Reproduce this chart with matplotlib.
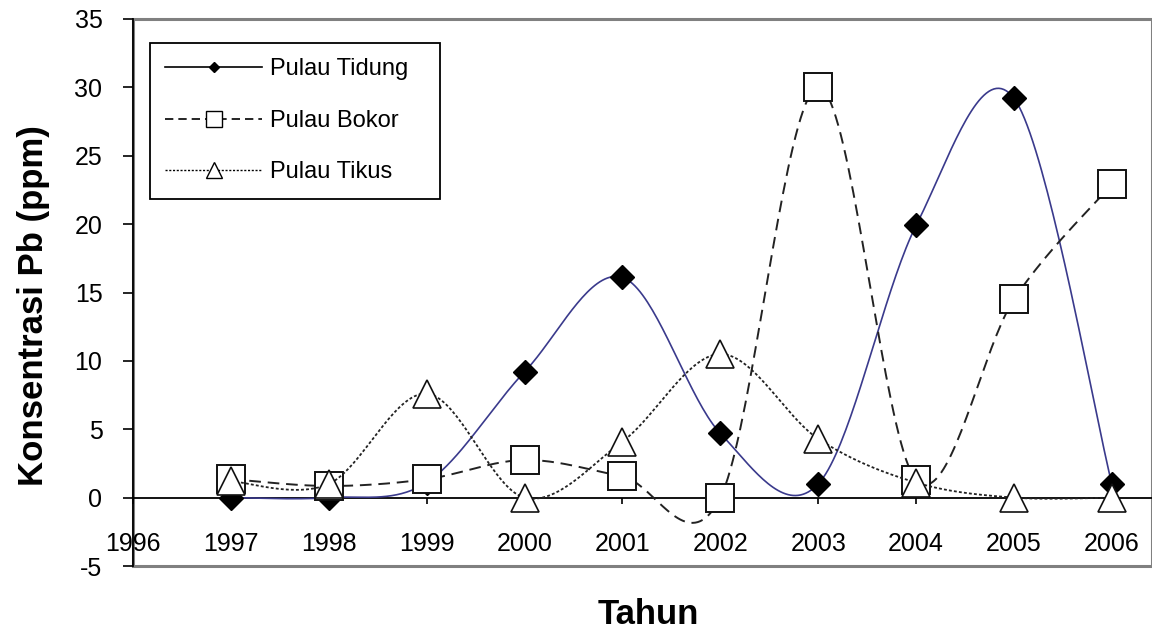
import numpy as np
import matplotlib
matplotlib.use("Agg")
import matplotlib.pyplot as plt
from matplotlib.lines import Line2D
from matplotlib.patches import Rectangle

plt.rcParams['font.family'] = ['Liberation Sans', 'DejaVu Sans']
plt.rcParams['axes.unicode_minus'] = False

years = [1997, 1998, 1999, 2000, 2001, 2002, 2003, 2004, 2005, 2006]
tidung = [0.0, 0.0, 1.1, 9.2, 16.1, 4.7, 1.0, 19.9, 29.2, 1.0]
bokor = [1.35, 0.85, 1.35, 2.75, 1.55, 0.0, 30.0, 1.3, 14.5, 22.9]
tikus = [1.2, 1.0, 7.6, 0.0, 4.1, 10.5, 4.3, 1.1, 0.0, 0.0]
series_names = ["Pulau Tidung", "Pulau Bokor", "Pulau Tikus"]
x_ticks = list(range(1996, 2007))
y_ticks = list(range(-5, 36, 5))


def smooth(xs, ys, n=40):
    """Excel-like smoothed line: Catmull-Rom style cubic Bezier segments."""
    x = np.asarray(xs, float)
    y = np.asarray(ys, float)
    px = np.concatenate([[x[0]], x, [x[-1]]])
    py = np.concatenate([[y[0]], y, [y[-1]]])
    ox, oy = [], []
    t = np.linspace(0, 1, n)
    for i in range(len(x) - 1):
        p0 = np.array([x[i], y[i]])
        p3 = np.array([x[i + 1], y[i + 1]])
        p1 = p0 + (np.array([px[i + 2], py[i + 2]]) - np.array([px[i], py[i]])) / 6.0
        p2 = p3 - (np.array([px[i + 3], py[i + 3]]) - np.array([px[i + 1], py[i + 1]])) / 6.0
        b = ((1 - t) ** 3)[:, None] * p0 + (3 * (1 - t) ** 2 * t)[:, None] * p1 \
            + (3 * (1 - t) * t ** 2)[:, None] * p2 + (t ** 3)[:, None] * p3
        ox.extend(b[:, 0]); oy.extend(b[:, 1])
    return np.array(ox), np.array(oy)


W, H = 1152, 635
fig = plt.figure(figsize=(W / 100, H / 100), dpi=100)
ax = fig.add_axes([133 / W, 1 - 566 / H, 1 - 133 / W, (566 - 19) / H])
ax.set_xlim(1996, 2006.41)
ax.set_ylim(-5, 35)

navy = '#3a3a8c'
# Tidung
sx, sy = smooth(years, tidung)
ax.plot(sx, sy, color=navy, lw=1.2, zorder=3)
ax.plot(years, tidung, ls='none', marker='D', ms=12, mfc='black', mec='black', zorder=4)
# Bokor
sx, sy = smooth(years, bokor)
ax.plot(sx, sy, color='#222222', lw=1.4, ls=(0, (6, 3.5)), zorder=5)
ax.plot(years, bokor, ls='none', marker='s', ms=20, mfc='white', mec='#111111', mew=1.4, zorder=6)
# Tikus
sx, sy = smooth(years, tikus)
ax.plot(sx, sy, color='#222222', lw=1.3, ls=(0, (1.6, 1.2)), zorder=7)
ax.plot(years, tikus, ls='none', marker='^', ms=19.5, mfc='white', mec='#111111', mew=1.2, zorder=8)

# axes styling
for s in ['top', 'right']:
    ax.spines[s].set_visible(False)
ax.spines['bottom'].set_position(('data', 0))
ax.spines['bottom'].set_color('black')
ax.spines['bottom'].set_linewidth(1.3)
ax.spines['left'].set_color('black')
ax.spines['left'].set_linewidth(1.3)
ax.add_patch(Rectangle((0, 0), 1, 1, transform=ax.transAxes, fill=False,
                       edgecolor='#808080', lw=2.2, clip_on=False, zorder=0.5))

ax.set_xticks(x_ticks)
ax.set_xticklabels([str(v) for v in x_ticks])
ax.set_yticks(y_ticks)
ax.set_yticklabels([str(v) for v in y_ticks])
ax.tick_params(axis='x', direction='out', length=4.5, width=1.2, pad=20, labelsize=18)
ax.tick_params(axis='y', direction='out', length=7, width=1.2, pad=15, labelsize=18)

fig.text(648 / W, 1 - 614 / H, 'Tahun', ha='center', va='center', fontsize=25, fontweight='bold')
fig.text(34 / W, 1 - 306 / H, 'Konsentrasi Pb (ppm)', ha='center', va='center',
         rotation=90, fontsize=25, fontweight='bold')

handles = [
    Line2D([], [], color='black', lw=1.2, marker='D', ms=5.2, mfc='black', mec='black'),
    Line2D([], [], color='black', lw=1.2, ls=(0, (5, 3)), marker='s', ms=11, mfc='white', mec='black'),
    Line2D([], [], color='black', lw=1.0, ls=(0, (1.5, 1.2)), marker='^', ms=11, mfc='white', mec='black'),
]
leg = ax.legend(handles, series_names, loc='upper left',
                bbox_to_anchor=(150 / W, 1 - 192 / H, 290 / W, 149 / H),
                bbox_transform=fig.transFigure, mode='expand',
                borderaxespad=0, fontsize=17, handlelength=4.1, handletextpad=0.35,
                labelspacing=1.25, borderpad=0.65, fancybox=False, framealpha=1,
                edgecolor='black')
leg.get_frame().set_linewidth(1.3)

fig.savefig('out.png', dpi=100)
